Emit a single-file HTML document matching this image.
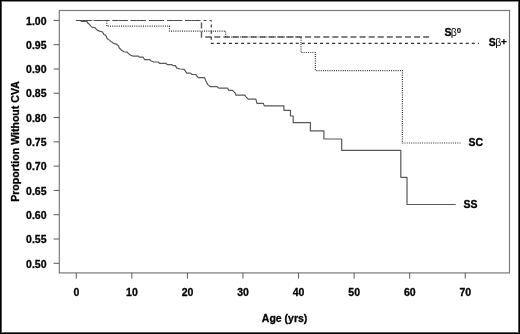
<!DOCTYPE html>
<html><head><meta charset="utf-8"><style>
html,body{margin:0;padding:0;background:#fff;}
#w{position:relative;width:520px;height:334px;overflow:hidden;background:#fff;}
svg{position:absolute;left:0;top:0;will-change:transform;}
.t{font-family:"Liberation Sans",sans-serif;font-weight:bold;font-size:10.5px;fill:#000;stroke:#000;stroke-width:0.3px;}
.a{font-family:"Liberation Sans",sans-serif;font-weight:bold;font-size:10.5px;fill:#000;stroke:#000;stroke-width:0.3px;}
.b{font-weight:normal;stroke-width:0;}
</style></head><body><div id="w"><svg width="520" height="334" viewBox="0 0 520 334">
<rect x="59.3" y="10.5" width="450.2" height="262.4" fill="none" stroke="#767676" stroke-width="1.15"/>
<line x1="53.6" y1="20.40" x2="59.3" y2="20.40" stroke="#5a5a5a" stroke-width="1"/>
<text x="46.5" y="24.60" text-anchor="end" class="t">1.00</text>
<line x1="53.6" y1="44.69" x2="59.3" y2="44.69" stroke="#5a5a5a" stroke-width="1"/>
<text x="46.5" y="48.89" text-anchor="end" class="t">0.95</text>
<line x1="53.6" y1="68.98" x2="59.3" y2="68.98" stroke="#5a5a5a" stroke-width="1"/>
<text x="46.5" y="73.18" text-anchor="end" class="t">0.90</text>
<line x1="53.6" y1="93.27" x2="59.3" y2="93.27" stroke="#5a5a5a" stroke-width="1"/>
<text x="46.5" y="97.47" text-anchor="end" class="t">0.85</text>
<line x1="53.6" y1="117.56" x2="59.3" y2="117.56" stroke="#5a5a5a" stroke-width="1"/>
<text x="46.5" y="121.76" text-anchor="end" class="t">0.80</text>
<line x1="53.6" y1="141.85" x2="59.3" y2="141.85" stroke="#5a5a5a" stroke-width="1"/>
<text x="46.5" y="146.05" text-anchor="end" class="t">0.75</text>
<line x1="53.6" y1="166.14" x2="59.3" y2="166.14" stroke="#5a5a5a" stroke-width="1"/>
<text x="46.5" y="170.34" text-anchor="end" class="t">0.70</text>
<line x1="53.6" y1="190.43" x2="59.3" y2="190.43" stroke="#5a5a5a" stroke-width="1"/>
<text x="46.5" y="194.63" text-anchor="end" class="t">0.65</text>
<line x1="53.6" y1="214.72" x2="59.3" y2="214.72" stroke="#5a5a5a" stroke-width="1"/>
<text x="46.5" y="218.92" text-anchor="end" class="t">0.60</text>
<line x1="53.6" y1="239.01" x2="59.3" y2="239.01" stroke="#5a5a5a" stroke-width="1"/>
<text x="46.5" y="243.21" text-anchor="end" class="t">0.55</text>
<line x1="53.6" y1="263.30" x2="59.3" y2="263.30" stroke="#5a5a5a" stroke-width="1"/>
<text x="46.5" y="267.50" text-anchor="end" class="t">0.50</text>
<line x1="76.30" y1="272.9" x2="76.30" y2="278.6" stroke="#5a5a5a" stroke-width="1"/>
<text x="76.40" y="296.2" text-anchor="middle" class="t">0</text>
<line x1="131.86" y1="272.9" x2="131.86" y2="278.6" stroke="#5a5a5a" stroke-width="1"/>
<text x="131.96" y="296.2" text-anchor="middle" class="t">10</text>
<line x1="187.42" y1="272.9" x2="187.42" y2="278.6" stroke="#5a5a5a" stroke-width="1"/>
<text x="187.52" y="296.2" text-anchor="middle" class="t">20</text>
<line x1="242.98" y1="272.9" x2="242.98" y2="278.6" stroke="#5a5a5a" stroke-width="1"/>
<text x="243.08" y="296.2" text-anchor="middle" class="t">30</text>
<line x1="298.54" y1="272.9" x2="298.54" y2="278.6" stroke="#5a5a5a" stroke-width="1"/>
<text x="298.64" y="296.2" text-anchor="middle" class="t">40</text>
<line x1="354.10" y1="272.9" x2="354.10" y2="278.6" stroke="#5a5a5a" stroke-width="1"/>
<text x="354.20" y="296.2" text-anchor="middle" class="t">50</text>
<line x1="409.66" y1="272.9" x2="409.66" y2="278.6" stroke="#5a5a5a" stroke-width="1"/>
<text x="409.76" y="296.2" text-anchor="middle" class="t">60</text>
<line x1="465.22" y1="272.9" x2="465.22" y2="278.6" stroke="#5a5a5a" stroke-width="1"/>
<text x="465.32" y="296.2" text-anchor="middle" class="t">70</text>
<path d="M75.9 20.5 H201.5" fill="none" stroke="#4a4a4a" stroke-width="1" stroke-dasharray="6.05 3.03" stroke-dashoffset="-0.3"/>
<path d="M75.9 20.5 H211.3" fill="none" stroke="#4a4a4a" stroke-width="1" stroke-dasharray="3.03 3.03" stroke-dashoffset="-0.3"/>
<path d="M75.9 20.5 H106.8" fill="none" stroke="#4a4a4a" stroke-width="1" stroke-dasharray="1 1.2"/>
<path d="M75.9 20.5 H81" fill="none" stroke="#4a4a4a" stroke-width="1"/>
<path d="M201.5 20.5 V37.0 H429.6" fill="none" stroke="#5a5a5a" stroke-width="1.4" stroke-dasharray="6.05 3.03" stroke-dashoffset="7.04"/>
<path d="M211.3 20.5 V43.3 H478.9" fill="none" stroke="#333" stroke-width="1.15" stroke-dasharray="3.03 3.04" stroke-dashoffset="2.02"/>
<path d="M106.80 20.50 L106.80 26.10 L169.50 26.10 L169.50 31.10 L225.60 31.10 L225.60 37.00 L301.00 37.00 L301.00 52.50 L315.40 52.50 L315.40 70.60 L402.40 70.60 L402.40 143.00 L461.20 143.00" fill="none" stroke="#333" stroke-width="1.2" stroke-dasharray="1 1.2"/>
<path d="M80.8 20.7 L82 21.3 L87 21.5" fill="none" stroke="#333" stroke-width="1.2"/>
<path d="M81.00 20.50 L81.30 21.20 L87.10 21.40 L87.50 22.80 L89.30 24.30 L90.40 25.70 L91.80 27.10 L94.70 27.50 L96.10 28.90 L97.50 30.40 L100.40 31.40 L102.60 32.00 L103.80 34.50 L105.80 35.40 L107.20 38.50 L108.50 39.40 L111.70 42.10 L113.50 43.30 L116.60 44.20 L118.40 45.70 L119.30 48.00 L121.60 50.20 L123.80 51.80 L127.00 52.00 L128.80 53.80 L130.60 55.20 L133.30 56.10 L138.40 56.20 L139.30 57.20 L143.20 57.20 L144.60 59.60 L149.90 59.60 L150.90 60.80 L153.75 62.00 L158.10 62.00 L159.50 63.30 L165.80 63.30 L167.20 64.60 L171.50 64.60 L173.00 65.60 L175.40 65.60 L176.80 68.10 L180.20 69.00 L184.20 69.30 L186.80 73.10 L190.50 73.10 L192.10 74.50 L195.70 74.50 L198.30 77.60 L204.60 77.60 L205.70 80.40 L206.70 82.50 L207.80 84.60 L210.40 86.70 L217.20 86.70 L218.80 88.10 L227.60 88.20 L228.70 90.30 L232.30 90.30 L234.40 92.10 L235.50 93.60 L236.00 95.20 L244.90 95.20 L246.00 96.80 L248.10 99.10 L255.90 99.10 L257.00 103.30 L263.30 103.30 L264.30 105.90 L283.90 105.90 L283.90 110.30 L290.50 110.30 L290.50 116.00 L293.20 116.00 L293.20 122.70 L310.40 122.70 L310.40 130.90 L323.90 130.90 L323.90 139.00 L341.70 139.00 L341.70 150.30 L400.80 150.30 L400.80 177.30 L407.00 177.30 L407.00 204.50 L455.70 204.50" fill="none" stroke="#585858" stroke-width="1.2" stroke-linejoin="round"/>
<text x="284.6" y="321.8" text-anchor="middle" class="a">Age (yrs)</text>
<text transform="translate(19.1,141.5) rotate(-90)" text-anchor="middle" class="a" textLength="120.6" lengthAdjust="spacingAndGlyphs">Proportion Without CVA</text>
<text x="463.6" y="208.2" class="a">SS</text>
<text x="468.6" y="145.8" class="a">SC</text>
<text x="444.4" y="36.3" class="a">S<tspan class="b" dx="-0.7">&#946;</tspan><tspan dx="0.1" dy="-3.6" font-size="7.8" style="stroke-width:0.1px">0</tspan></text>
<text x="488.8" y="46" class="a">S<tspan class="b" dx="-0.5">&#946;</tspan><tspan dx="-0.4" dy="-1.5" font-size="9.8">+</tspan></text>
<rect x="1" y="1" width="518" height="1" fill="#8a8a8a"/>
<rect x="1" y="1" width="1" height="332" fill="#505050"/>
<rect x="518" y="1" width="1" height="332" fill="#555"/>
<rect x="1" y="332" width="518" height="1" fill="#5a5a5a"/>
<rect x="0.5" y="0.5" width="519" height="333" fill="none" stroke="#000" stroke-width="1"/>
</svg></div></body></html>
